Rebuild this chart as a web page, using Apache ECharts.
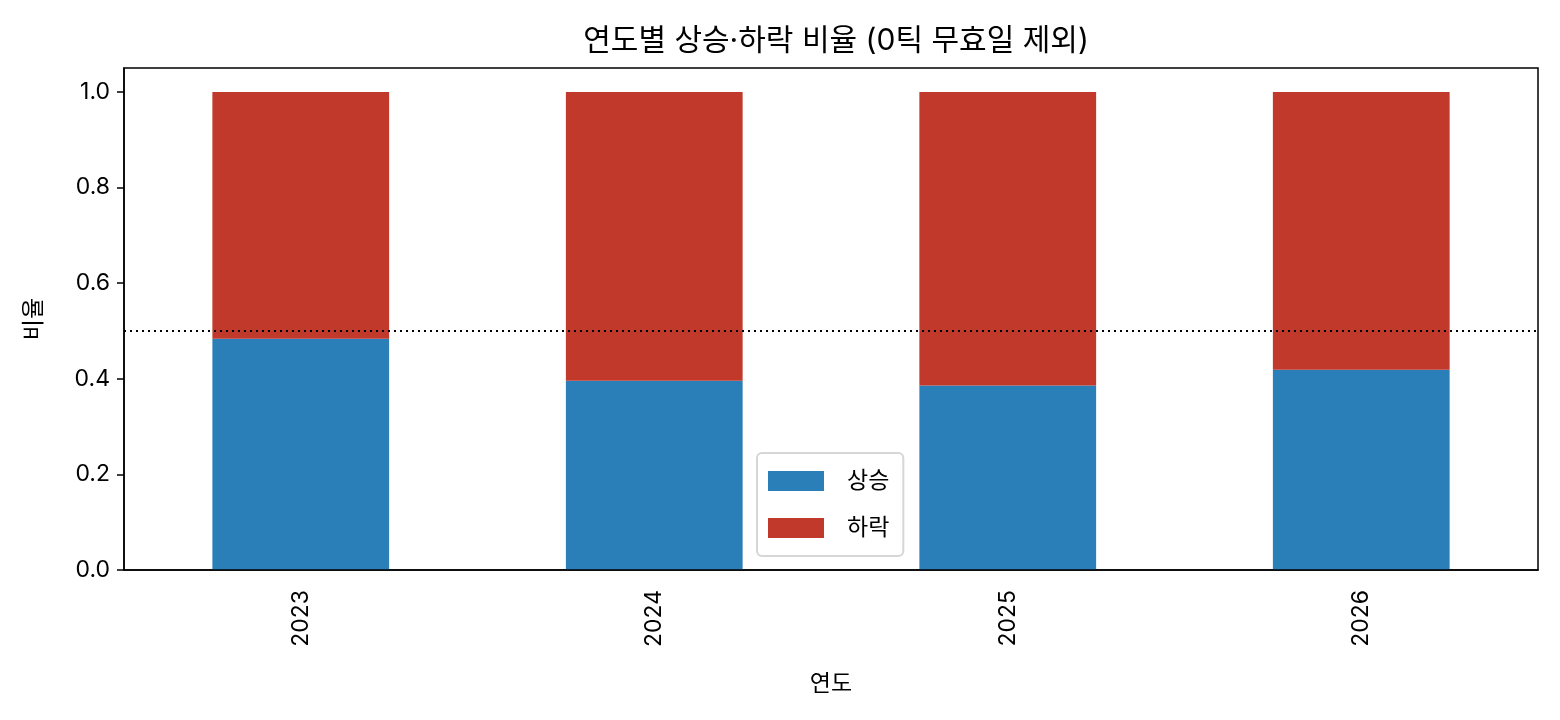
<!DOCTYPE html>
<html>
<head>
<meta charset="utf-8">
<script src="https://cdn.jsdelivr.net/npm/echarts@6/dist/echarts.min.js"></script>
<style>
  html, body { margin: 0; padding: 0; background: #fff; }
  #main { width: 1560px; height: 720px; }
</style>
</head>
<body>
<div id="main"></div>
<script>
var years = ['2023', '2024', '2025', '2026'];
var upRatio = [0.4836, 0.3956, 0.386, 0.4187];
var downRatio = upRatio.map(function (v) { return +(1 - v).toFixed(4); });
var yTicks = [0.0, 0.2, 0.4, 0.6, 0.8, 1.0];

var font = 'Inter, "Noto Sans CJK KR", "Noto Sans", sans-serif';
var chartDom = document.getElementById('main');
var myChart = echarts.init(chartDom, null, { renderer: 'canvas' });

var option = {
    animation: false,
    textStyle: { fontFamily: font },
    title: {
        text: '연도별 상승·하락 비율 (0틱 무효일 제외)',
        left: 831,
        textAlign: 'center',
        top: 21,
        textStyle: { fontFamily: font, fontSize: 30, fontWeight: 'normal', color: '#000' }
    },
    legend: {
        orient: 'vertical',
        left: 757,
        top: 453,
        icon: 'rect',
        itemWidth: 56,
        itemHeight: 20,
        itemGap: 23,
        padding: [16, 14, 16, 11],
        backgroundColor: '#fff',
        borderColor: '#d6d6d6',
        borderWidth: 2,
        borderRadius: 5,
        textStyle: { fontFamily: font, fontSize: 23, lineHeight: 24, color: '#000', padding: [0, 0, 0, 18] },
        data: ['상승', '하락']
    },
    grid: { left: 124, right: 22, top: 68, bottom: 150 },
    xAxis: {
        type: 'category',
        data: years,
        name: '연도',
        nameLocation: 'middle',
        nameGap: 103,
        nameTextStyle: { fontFamily: font, fontSize: 23, color: '#000' },
        axisLine: { lineStyle: { color: '#000', width: 1.5 } },
        axisTick: { alignWithLabel: true, length: 7, lineStyle: { color: '#000', width: 1.5 } },
        axisLabel: { rotate: 90, fontSize: 23, color: '#000', margin: 20, fontFamily: font }
    },
    yAxis: {
        type: 'value',
        min: 0,
        max: 1.05,
        name: '비율',
        nameLocation: 'middle',
        nameGap: 78,
        nameTextStyle: { fontFamily: font, fontSize: 23, color: '#000' },
        axisLine: { show: true, lineStyle: { color: '#000', width: 1.5 } },
        axisTick: { show: true, length: 7, customValues: yTicks, lineStyle: { color: '#000', width: 1.5 } },
        splitLine: { show: false },
        axisLabel: {
            fontSize: 23, color: '#000', margin: 14, fontFamily: font,
            customValues: yTicks,
            formatter: function (v) { return v.toFixed(1); }
        }
    },
    series: [
        {
            name: '상승',
            type: 'bar',
            stack: 'r',
            barWidth: '50%',
            itemStyle: { color: '#2a7fb8' },
            data: upRatio,
            markLine: {
                silent: true,
                symbol: 'none',
                label: { show: false },
                lineStyle: { color: '#000', type: [2, 4], width: 2 },
                data: [{ yAxis: 0.5 }]
            }
        },
        {
            name: '하락',
            type: 'bar',
            stack: 'r',
            barWidth: '50%',
            itemStyle: { color: '#c0392b' },
            data: downRatio
        }
    ],
    graphic: [{
        type: 'rect',
        shape: { x: 124, y: 68, width: 1414, height: 502 },
        style: { fill: 'none', stroke: '#000', lineWidth: 1.5 },
        silent: true,
        z: 100
    }]
};

option && myChart.setOption(option);
</script>
</body>
</html>
